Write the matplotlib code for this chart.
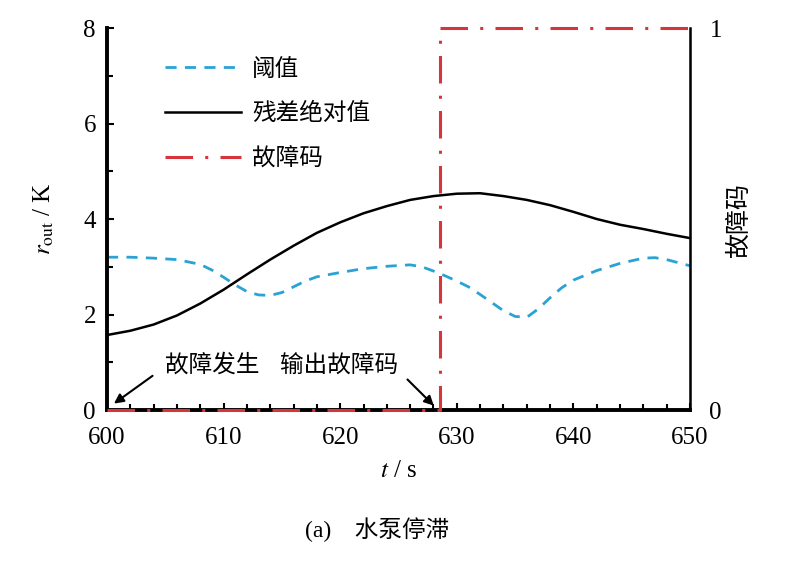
import matplotlib.pyplot as plt
from matplotlib.ticker import MultipleLocator

plt.rcParams['font.family'] = ['Liberation Serif', 'Noto Sans CJK SC']
plt.rcParams['mathtext.fontset'] = 'stix'
plt.rcParams['font.size'] = 18

# residual (absolute value)
t_res = [600, 602, 604, 606, 608, 610, 612, 614, 616, 618, 620, 622, 624,
         626, 628, 630, 632, 634, 636, 638, 640, 642, 644, 646, 648, 650]
residual = [1.57, 1.66, 1.79, 1.98, 2.23, 2.52, 2.84, 3.15, 3.44, 3.71, 3.93,
            4.12, 4.27, 4.40, 4.48, 4.53, 4.54, 4.48, 4.40, 4.29, 4.15, 4.00,
            3.88, 3.79, 3.69, 3.60]

# threshold
t_thr = [600, 602, 604, 606, 608, 609, 610, 611, 612, 613, 614, 615, 616, 617,
         618, 620, 622, 624, 626, 627, 628, 629, 630, 631, 632, 633, 634, 635,
         636, 637, 638, 639, 640, 642, 644, 646, 647, 648, 650]
threshold = [3.20, 3.20, 3.18, 3.15, 3.05, 2.93, 2.78, 2.62, 2.48, 2.41, 2.40,
             2.46, 2.58, 2.70, 2.79, 2.88, 2.96, 3.01, 3.04, 3.00, 2.91, 2.81,
             2.70, 2.58, 2.42, 2.25, 2.08, 1.96, 1.94, 2.12, 2.35, 2.56, 2.72,
             2.92, 3.07, 3.18, 3.19, 3.15, 3.02]

# fault code
t_code = [600, 628.6, 628.6, 650]
fault_code = [0, 0, 1, 1]

fig = plt.figure(figsize=(7.88, 5.80), dpi=100)
ax = fig.add_axes([0.1358, 0.2931, 0.7398, 0.6586])
ax2 = ax.twinx()

l_thr, = ax.plot(t_thr, threshold, color='#2aa3d4', lw=2, dashes=(4, 3), label='阈值')
l_res, = ax.plot(t_res, residual, color='black', lw=1.8, label='残差绝对值')
l_code, = ax2.plot(t_code, fault_code, color='#d8343c', lw=2.2,
                   dashes=(9, 4, 1, 4), label='故障码', clip_on=False)

ax.set_xlim(600, 650)
ax.set_ylim(0, 8)
ax2.set_ylim(0, 1)
ax.xaxis.set_major_locator(MultipleLocator(10))
ax.xaxis.set_minor_locator(MultipleLocator(2))
ax.yaxis.set_major_locator(MultipleLocator(2))
ax.yaxis.set_minor_locator(MultipleLocator(1))
ax.tick_params(which='both', direction='in', width=1.5, pad=8)
ax.tick_params(which='major', length=5)
ax.tick_params(which='minor', length=4)
ax.tick_params(axis='x', pad=12)
ax2.set_yticks([0, 1])
ax2.tick_params(length=0, pad=14)

for a in (ax, ax2):
    a.spines['top'].set_visible(False)
ax.spines['left'].set_linewidth(2.8)
ax.spines['bottom'].set_linewidth(2.8)
ax2.spines['right'].set_linewidth(1.8)
ax2.spines['left'].set_visible(False)
ax2.spines['bottom'].set_visible(False)

ax.set_xlabel('$t$ / s', labelpad=8)
ax.set_ylabel(r'$r_{\mathrm{out}}$ / K', labelpad=20)
ax2.set_ylabel('故障码', labelpad=4)

# annotations
ax.annotate('', xy=(600.4, 0.1), xytext=(604.1, 0.75),
            arrowprops=dict(arrowstyle='-|>', color='black', lw=1.5, mutation_scale=14))
ax.text(605, 0.94, '故障发生', va='center', ha='left', fontsize=17)
ax.annotate('', xy=(628.2, 0.05), xytext=(625.6, 0.68),
            arrowprops=dict(arrowstyle='-|>', color='black', lw=1.5, mutation_scale=14))
ax.text(614.8, 0.94, '输出故障码', va='center', ha='left', fontsize=17)

ax.legend(handles=[l_thr, l_res, l_code], loc='upper left',
          bbox_to_anchor=(0.0995, 0.92), frameon=False, borderpad=0,
          borderaxespad=0, handlelength=3.2, handletextpad=0.5,
          labelspacing=0.95, fontsize=17)

fig.text(0.479, 0.086, '(a)    水泵停滞', ha='center', va='center', fontsize=17)

fig.savefig('out.png', dpi=100)
